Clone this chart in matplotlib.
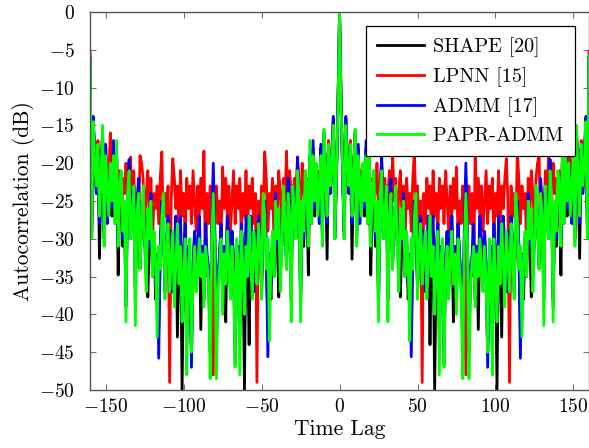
import numpy as np
import matplotlib
matplotlib.use("Agg")
import matplotlib.pyplot as plt

plt.rcParams['font.family'] = 'serif'
plt.rcParams['font.serif'] = ['cmr10']
plt.rcParams['mathtext.fontset'] = 'cm'
plt.rcParams['axes.formatter.use_mathtext'] = True
plt.rcParams['font.size'] = 14

# one-sided autocorrelation (dB) for lags 0..160
shape_db = [
    0, -12, -22, -30, -14, -20, -24, -18, -32.7, -21,
    -16, -30, -18, -27, -24, -21, -27, -18, -28, -20,
    -34.8, -25, -22, -31, -26, -39, -24, -20, -30, -26,
    -23, -38, -27, -23, -34, -28, -25, -31, -27, -37.7,
    -30, -25, -35, -30, -38, -33, -42, -31, -26, -29,
    -37, -31, -28, -40, -30, -36, -32, -27, -44, -31,
    -29, -50, -32, -28, -43, -31, -36, -44, -33, -29,
    -37, -31, -27, -41, -31, -37, -28, -33, -36, -44,
    -30, -22, -30, -45, -35, -33, -29, -38, -31, -42,
    -28, -31, -36, -30, -34, -45, -35, -31, -44, -29,
    -33, -50, -29, -31, -43, -28, -32, -37, -29, -39,
    -28, -31, -37, -29, -26, -31, -42, -33, -38, -30,
    -35, -25, -30, -37.7, -27, -31, -25, -28, -34, -23,
    -27, -38, -23, -26, -30, -20, -24, -39, -26, -31,
    -22, -25, -34.8, -20, -28, -18, -27, -21, -24, -27,
    -18, -30, -16, -21, -32.6, -18, -24, -20, -14, -30,
    -6,
]

lpnn_db = [
    0, -12, -21, -29, -15, -19, -23, -17, -26, -21,
    -16, -29, -19, -24, -21, -26, -20, -23, -19, -25,
    -22, -28, -21, -24, -20, -27, -23, -19.2, -26, -22,
    -28, -24, -21, -30, -18.4, -25, -22, -29, -24, -21,
    -27, -23, -31, -22, -26, -24, -29, -22, -18.5, -27,
    -23, -30, -25, -49, -24, -28, -22, -26, -23, -29,
    -21, -27, -24, -30, -22, -26, -23, -28, -21, -25,
    -29, -23, -27, -22, -26, -20.5, -30, -25, -28, -23,
    -26, -48, -26, -23, -28, -24, -35, -18.4, -26, -22,
    -27, -23, -29, -25, -21, -28, -23, -26, -22, -30,
    -24, -27, -21, -29, -23, -26, -22, -19.4, -25, -49,
    -23, -27, -24, -30, -18.5, -22, -28, -23, -26, -24,
    -31, -22, -27, -21, -24, -29, -22, -20, -19, -30,
    -24, -28, -21, -27, -19.2, -23, -26, -20, -24, -22,
    -28, -21, -25, -19, -23, -20, -26, -16, -21, -24,
    -19, -29, -16, -21, -26, -17, -23, -19, -15, -29,
    -5.2,
]

admm_db = [
    0, -12, -22, -29, -13.8, -19, -24, -18, -28, -21,
    -16, -30, -17.5, -28, -24, -21, -26, -17, -27, -19,
    -30, -24, -22, -30, -26, -38, -25, -19.2, -29, -25,
    -23, -36, -26, -22, -33, -27, -25, -30, -35, -27,
    -31, -24, -33, -30, -36, -32, -45.6, -31, -25, -28,
    -36, -30, -27, -34, -29, -37, -31, -27, -35, -30,
    -27, -38, -32, -28, -41, -31, -35, -46.5, -33, -29,
    -36, -30, -27, -34, -31, -38, -28, -32, -35, -42,
    -29, -20, -29, -42, -34, -32, -28, -37, -31, -34,
    -27, -30, -35, -29, -33, -47, -34, -31, -40, -28,
    -32, -38, -27, -30, -35, -27, -31, -37, -29, -34,
    -27, -30, -36, -28, -25, -31, -45.8, -32, -36, -30,
    -33, -24, -31, -27, -35, -30, -25, -27, -33, -22,
    -26, -36, -23, -25, -29, -19.5, -25, -38, -26, -30,
    -22, -24, -30, -19, -27, -17, -26, -21, -24, -28,
    -17.5, -30, -16, -21, -28, -18, -24, -19, -13.8, -29,
    -6,
]

papr_admm_db = [
    0, -13, -21, -30, -15, -20, -23, -17.5, -27, -22,
    -15.5, -31, -19, -23, -27, -20, -25, -19, -28, -17,
    -31, -23, -21, -29, -25, -41, -24, -21, -30, -27,
    -23, -41, -27, -24, -34, -28, -23, -31, -37, -26,
    -30, -25, -35, -29, -33, -43.5, -30, -34, -27, -24,
    -38, -31, -28, -36, -32, -29, -38, -33, -27, -35,
    -31, -40, -34, -29, -48, -33, -30, -47, -35, -31,
    -38, -33, -29, -36, -32, -40, -30, -34, -37, -48.5,
    -31, -24, -30, -48.5, -36, -33, -31, -39, -32, -35,
    -30, -34, -37, -31, -36, -45, -30, -34, -48, -30,
    -35, -41, -31, -36, -28, -33, -39, -29, -33, -37,
    -28, -32, -38, -24, -27, -34, -31, -43, -33, -29,
    -35, -25, -30, -26, -37, -31, -23, -28, -34, -24,
    -27, -41.5, -23, -27, -30, -21, -24, -41, -25, -29,
    -21, -23, -31, -17, -28, -19, -25, -20, -27, -23,
    -19, -31, -15, -22, -27, -17.5, -23, -20, -14.5, -30,
    -5.8,
]

series_names = ['SHAPE [20]', 'LPNN [15]', 'ADMM [17]', 'PAPR-ADMM']
series_colors = ['black', 'red', 'blue', '#00ff00']

lags = np.arange(-160, 161)


def two_sided(one_sided):
    v = np.asarray(one_sided, dtype=float)
    return np.concatenate([v[:0:-1], v])


fig = plt.figure(figsize=(5.89, 4.48), dpi=100)
ax = fig.add_axes([0.153, 0.1295, 0.847, 0.8438])

for vals, name, col in zip([shape_db, lpnn_db, admm_db, papr_admm_db], series_names, series_colors):
    ax.plot(lags, two_sided(vals), color=col, lw=2.0, label=name)

ax.set_xlim(-160, 160)
ax.set_ylim(-50, 0)
ax.set_xticks([-150, -100, -50, 0, 50, 100, 150])
ax.set_yticks(np.arange(-50, 1, 5))
ax.tick_params(direction='in', top=True, right=True, length=4, width=0.6, color='#555555')
ax.tick_params(axis='y', pad=11)
ax.tick_params(axis='x', pad=6)
for sp in ax.spines.values():
    sp.set_color('#555555')
    sp.set_linewidth(1.0)

ax.set_xlabel('Time Lag', fontsize=15.5, labelpad=2)
ax.set_ylabel('Autocorrelation (dB)', fontsize=15.5, labelpad=3)

leg = ax.legend(loc='upper right', fancybox=False, edgecolor='black', framealpha=1,
                fontsize=14.5, handlelength=2.3, handletextpad=0.45,
                borderaxespad=0.7, labelspacing=0.5, borderpad=0.55)
leg.get_frame().set_linewidth(0.9)

fig.savefig('out.png', dpi=100)
